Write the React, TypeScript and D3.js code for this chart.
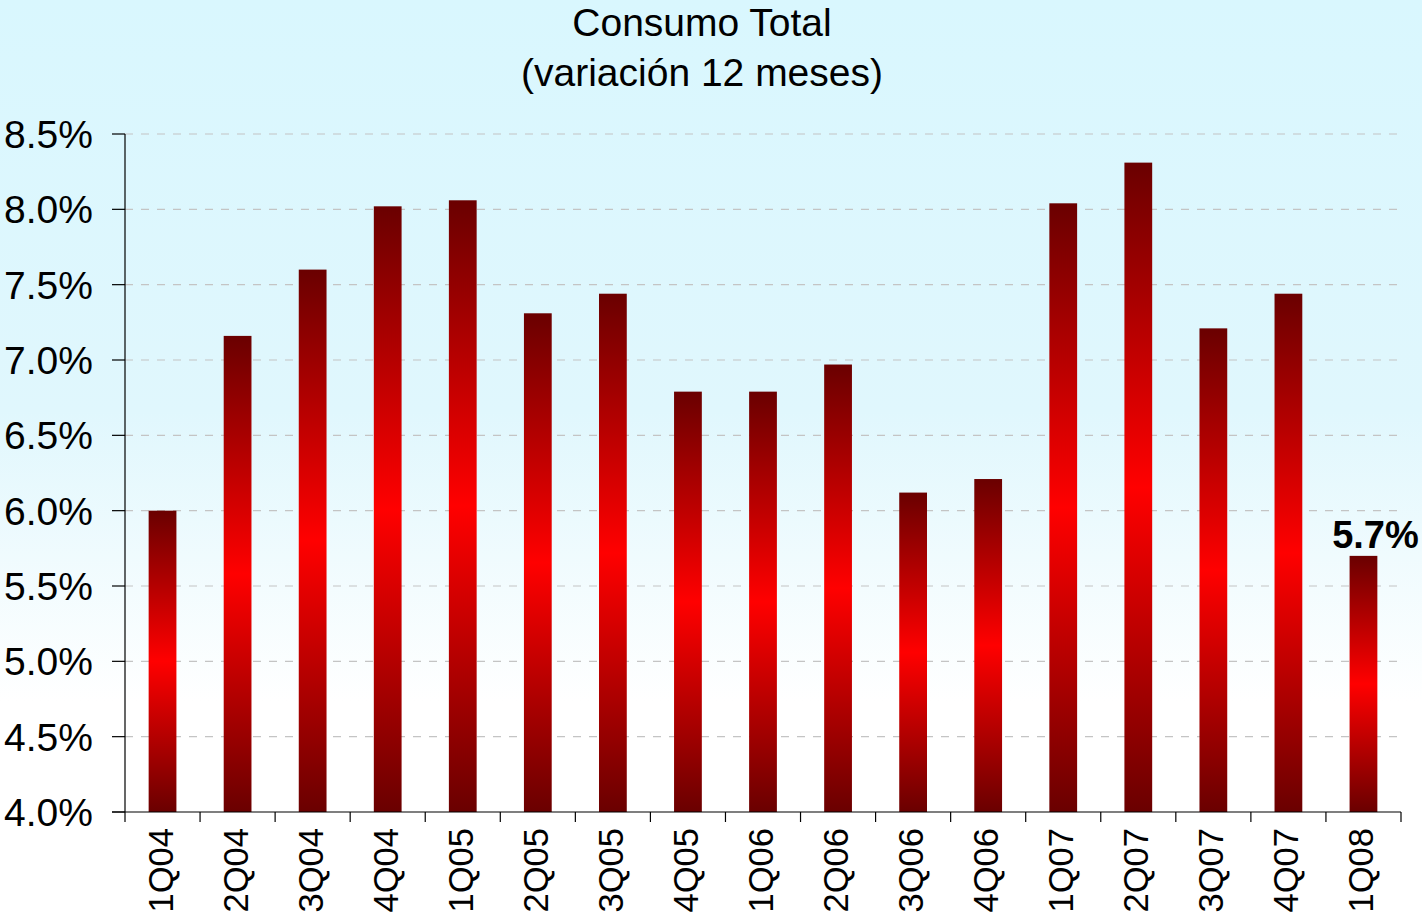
import React from "react";
import * as d3 from "d3";

const categories = ["1Q04","2Q04","3Q04","4Q04","1Q05","2Q05","3Q05","4Q05","1Q06","2Q06","3Q06","4Q06","1Q07","2Q07","3Q07","4Q07","1Q08"];
const values = [6.0, 7.16, 7.6, 8.02, 8.06, 7.31, 7.44, 6.79, 6.79, 6.97, 6.12, 6.21, 8.04, 8.31, 7.21, 7.44, 5.7];
const yTicks = [4.0, 4.5, 5.0, 5.5, 6.0, 6.5, 7.0, 7.5, 8.0, 8.5];
const title = ["Consumo Total", "(variación 12 meses)"];
const highlightLabel = "5.7%";

const W = 1422, H = 912;
const left = 125, right = 1401, top = 134, bottom = 812;

export default function App() {
  const x = d3.scaleBand<string>().domain(categories).range([left, right]).paddingInner(0.63).paddingOuter(0.315);
  const xt = d3.scaleBand<string>().domain(categories).range([left, right]);
  const y = d3.scaleLinear().domain([4, 8.5]).range([bottom, top]);
  const font = "Arial, 'Liberation Sans', sans-serif";
  const last = categories.length - 1;
  return (
    <svg width={W} height={H} style={{ position: "absolute", left: 0, top: 0 }} fontFamily={font}>
      <defs>
        <linearGradient id="bg" x1="0" y1="0" x2="0" y2="1">
          <stop offset="0" stopColor="#d9f7fe" />
          <stop offset="0.45" stopColor="#e0f7fd" />
          <stop offset="0.77" stopColor="#ffffff" />
          <stop offset="1" stopColor="#ffffff" />
        </linearGradient>
        <linearGradient id="bar" x1="0" y1="0" x2="0" y2="1">
          <stop offset="0" stopColor="#6a0000" />
          <stop offset="0.5" stopColor="#ff0000" />
          <stop offset="1" stopColor="#6a0000" />
        </linearGradient>
      </defs>
      <rect x={0} y={0} width={W} height={H} fill="url(#bg)" />
      {title.map((t, i) => (
        <text key={i} x={702} y={36 + i * 50} textAnchor="middle" fontSize={39} fill="#000">{t}</text>
      ))}
      {yTicks.map((t) => (
        <g key={t}>
          {t > 4 && <line x1={left} x2={right} y1={y(t)} y2={y(t)} stroke="#c4c4c4" strokeWidth={1.2} strokeDasharray="8,8" />}
          <line x1={left - 13} x2={left} y1={y(t)} y2={y(t)} stroke="#000" strokeWidth={1.2} />
          <text x={93} y={y(t) + 14} textAnchor="end" fontSize={39} fill="#000">{t.toFixed(1) + "%"}</text>
        </g>
      ))}
      {categories.map((c, i) => (
        <rect key={c} x={x(c)} y={y(values[i])} width={x.bandwidth()} height={bottom - y(values[i])} fill="url(#bar)" />
      ))}
      <line x1={left} x2={left} y1={top} y2={bottom + 10} stroke="#000" strokeWidth={1.2} />
      <line x1={left - 13} x2={right} y1={bottom} y2={bottom} stroke="#000" strokeWidth={1.2} />
      {categories.map((c, i) => (
        <line key={"t" + c} x1={xt(c)! + xt.bandwidth()} x2={xt(c)! + xt.bandwidth()} y1={bottom} y2={bottom + 10} stroke="#000" strokeWidth={1.2} />
      ))}
      {categories.map((c) => {
        const cx = xt(c)! + xt.bandwidth() / 2;
        return (
          <text key={"l" + c} transform={`translate(${cx + 10},828) rotate(-90)`} textAnchor="end" fontSize={34.5} fill="#000">{c}</text>
        );
      })}
      <text x={x(categories[last])! + x.bandwidth() / 2 + 12} y={y(values[last]) - 8} textAnchor="middle" fontSize={38} fontWeight="bold" fill="#000">{highlightLabel}</text>
    </svg>
  );
}
